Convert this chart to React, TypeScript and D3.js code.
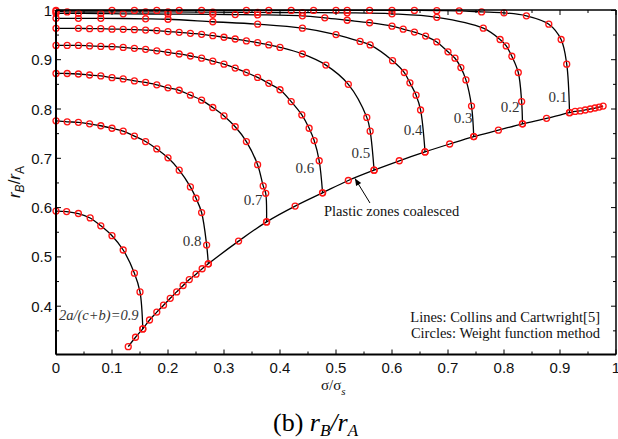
import React from "react";
import * as d3 from "d3";

const W = 618;
const H = 439;

// curve labels 2a/(c+b)
const LAMBDA_LABELS = ["0.1", "0.2", "0.3", "0.4", "0.5", "0.6", "0.7", "0.8"];

// sigma / sigma_s and r_B / r_A for each 2a/(c+b)
const S1 = [0, 0.1, 0.14, 0.18, 0.22, 0.26, 0.34, 0.38, 0.42, 0.46, 0.5, 0.52, 0.56, 0.6, 0.64, 0.68, 0.72, 0.76, 0.8, 0.84, 0.88, 0.902, 0.912, 0.917];
const R1 = [1, 1, 1, 1, 1, 1, 1, 1, 1, 1, 1, 1, 1, 1, 1, 0.9995, 0.999, 0.997, 0.995, 0.989, 0.972, 0.941, 0.891, 0.7925];

const S2 = [0, 0.02, 0.16, 0.2, 0.28, 0.36, 0.44, 0.52, 0.6, 0.68, 0.763, 0.793, 0.804, 0.814, 0.8255, 0.8315, 0.833];
const R2 = [0.998, 0.997, 0.997, 0.997, 0.9965, 0.996, 0.9955, 0.995, 0.993, 0.986, 0.964, 0.941, 0.928, 0.907, 0.874, 0.815, 0.77];

const S3 = [0, 0.04, 0.08, 0.12, 0.2, 0.28, 0.32, 0.36, 0.44, 0.48, 0.52, 0.56, 0.6, 0.62, 0.64, 0.66, 0.68, 0.7, 0.7125, 0.723, 0.732, 0.742, 0.746];
const R3 = [0.994, 0.994, 0.9935, 0.993, 0.9925, 0.992, 0.9915, 0.991, 0.989, 0.985, 0.98, 0.975, 0.968, 0.962, 0.956, 0.948, 0.936, 0.916, 0.903, 0.884, 0.859, 0.806, 0.744];

const S4 = [0, 0.04, 0.08, 0.16, 0.2, 0.28, 0.36, 0.44, 0.5, 0.543, 0.561, 0.601, 0.622, 0.632, 0.643, 0.651, 0.659];
const R4 = [0.984, 0.984, 0.984, 0.983, 0.982, 0.977, 0.972, 0.964, 0.951, 0.937, 0.93, 0.898, 0.874, 0.853, 0.828, 0.798, 0.713];

const S5 = [0, 0.04, 0.06, 0.08, 0.1, 0.12, 0.14, 0.16, 0.18, 0.2, 0.22, 0.24, 0.26, 0.28, 0.3, 0.32, 0.34, 0.36, 0.38, 0.4, 0.44, 0.482, 0.522, 0.555, 0.561, 0.568];
const R5 = [0.9636, 0.9636, 0.963, 0.963, 0.962, 0.9617, 0.961, 0.96, 0.959, 0.957, 0.9556, 0.9535, 0.9515, 0.9487, 0.9455, 0.942, 0.938, 0.9345, 0.93, 0.925, 0.9116, 0.889, 0.85, 0.783, 0.755, 0.676];

const S6 = [0, 0.02, 0.04, 0.06, 0.08, 0.1, 0.12, 0.14, 0.16, 0.18, 0.2, 0.22, 0.24, 0.26, 0.28, 0.3, 0.32, 0.34, 0.36, 0.38, 0.4, 0.42, 0.439, 0.452, 0.461, 0.47, 0.476];
const R6 = [0.929, 0.929, 0.929, 0.928, 0.927, 0.9264, 0.925, 0.923, 0.921, 0.918, 0.915, 0.9116, 0.9075, 0.903, 0.897, 0.891, 0.883, 0.874, 0.864, 0.852, 0.839, 0.815, 0.788, 0.761, 0.736, 0.695, 0.63];

const S7 = [0, 0.02, 0.04, 0.06, 0.08, 0.1, 0.12, 0.14, 0.16, 0.18, 0.2, 0.22, 0.24, 0.26, 0.28, 0.3, 0.32, 0.34, 0.36, 0.37, 0.3745, 0.376];
const R7 = [0.872, 0.872, 0.871, 0.869, 0.867, 0.8635, 0.861, 0.857, 0.854, 0.849, 0.843, 0.838, 0.828, 0.818, 0.803, 0.786, 0.764, 0.734, 0.687, 0.644, 0.629, 0.571];

const S8 = [0, 0.02, 0.04, 0.06, 0.08, 0.1, 0.12, 0.14, 0.16, 0.18, 0.2, 0.22, 0.24, 0.25, 0.26, 0.269, 0.272];
const R8 = [0.776, 0.774, 0.773, 0.77, 0.766, 0.761, 0.755, 0.745, 0.734, 0.719, 0.701, 0.676, 0.642, 0.619, 0.59, 0.524, 0.486];

const S9 = [0, 0.019, 0.04, 0.061, 0.08, 0.1, 0.12, 0.14, 0.15, 0.155];
const R9 = [0.593, 0.592, 0.588, 0.579, 0.563, 0.543, 0.514, 0.467, 0.429, 0.354];

// plastic zones coalesced
const SC = [0.129, 0.142, 0.155, 0.167, 0.18, 0.192, 0.204, 0.2155, 0.227, 0.238, 0.25, 0.261, 0.272, 0.326, 0.376, 0.427, 0.476, 0.522, 0.568, 0.613, 0.659, 0.703, 0.746, 0.79, 0.833, 0.876, 0.917, 0.927, 0.936, 0.945, 0.954, 0.9625, 0.97, 0.977];
const RC = [0.318, 0.337, 0.354, 0.372, 0.388, 0.402, 0.416, 0.429, 0.442, 0.454, 0.465, 0.476, 0.486, 0.532, 0.571, 0.603, 0.63, 0.655, 0.676, 0.695, 0.713, 0.729, 0.744, 0.757, 0.77, 0.781, 0.7925, 0.795, 0.796, 0.798, 0.8, 0.802, 0.804, 0.806];

const X_TICK_LABELS = ["0", "0.1", "0.2", "0.3", "0.4", "0.5", "0.6", "0.7", "0.8", "0.9", "1"];
const Y_TICK_LABELS = ["0.4", "0.5", "0.6", "0.7", "0.8", "0.9", "1"];

const SERIES = [
  { s: S1, r: R1 }, { s: S2, r: R2 }, { s: S3, r: R3 }, { s: S4, r: R4 }, { s: S5, r: R5 },
  { s: S6, r: R6 }, { s: S7, r: R7 }, { s: S8, r: R8 }, { s: S9, r: R9 },
];

const SERIF = "'Liberation Serif', 'Times New Roman', serif";
const SANS = "'Liberation Sans', Arial, sans-serif";

export default function App() {
  const left = 56, right = 616, top = 10, bottom = 354.5;
  const x = d3.scaleLinear().domain([0, 1]).range([left, right]);
  const y = d3.scaleLinear().domain([0.3, 1]).range([355.5, 10.4]);

  const toPts = (s: number[], r: number[]) => s.map((v, i) => [v, r[i]] as [number, number]);
  const line = d3
    .line<[number, number]>()
    .x((d) => x(d[0]))
    .y((d) => y(d[1]))
    .curve(d3.curveCatmullRom.alpha(0.5));

  const xTicks = d3.range(0, 21).map((i) => i * 0.05);
  const yTicks = d3.range(1, 15).map((i) => 0.3 + i * 0.05);

  const curveLabelPos: [number, number][] = [
    [0.896, 0.8142], [0.811, 0.7939], [0.727, 0.7726], [0.6375, 0.7473],
    [0.5446, 0.7006], [0.4446, 0.6692], [0.3518, 0.6053], [0.2429, 0.5221],
  ];

  const coal = toPts(SC, RC);
  const circleR = 3;
  const red = "#ff1414";

  const ax0 = x(0.5607), ay0 = y(0.6093), ax1 = x(0.5339), ay1 = y(0.659);
  const ang = Math.atan2(ay1 - ay0, ax1 - ax0);
  const ah = 7, aw = 3;
  const arrowHead = [
    [ax1, ay1],
    [ax1 - ah * Math.cos(ang) + aw * Math.sin(ang), ay1 - ah * Math.sin(ang) - aw * Math.cos(ang)],
    [ax1 - ah * Math.cos(ang) - aw * Math.sin(ang), ay1 - ah * Math.sin(ang) + aw * Math.cos(ang)],
  ]
    .map((p) => p.join(","))
    .join(" ");

  return (
    <svg
      width={W}
      height={H}
      style={{ position: "absolute", left: 0, top: 0, background: "#fff" }}
    >
      <rect x={0} y={0} width={W} height={H} fill="#fff" />

      {/* curves */}
      {SERIES.map((c, i) => (
        <path key={"l" + i} d={line(toPts(c.s, c.r)) || ""} fill="none" stroke="#000" strokeWidth={1.3} />
      ))}
      <path d={line(coal) || ""} fill="none" stroke="#000" strokeWidth={1.3} />

      {/* circles */}
      {SERIES.map((c, i) =>
        toPts(c.s, c.r).map((p, j) => (
          <circle key={"c" + i + "-" + j} cx={x(p[0])} cy={y(p[1])} r={circleR} fill="none" stroke={red} strokeWidth={1.3} />
        ))
      )}
      {coal.map((p, j) => (
        <circle key={"cc" + j} cx={x(p[0])} cy={y(p[1])} r={circleR} fill="none" stroke={red} strokeWidth={1.3} />
      ))}

      {/* frame */}
      <line x1={left} x2={right} y1={top} y2={top} stroke="#000" strokeWidth={1.5} />
      <line x1={right} x2={right} y1={top} y2={bottom} stroke="#000" strokeWidth={1.5} />
      <line x1={left} x2={left} y1={top} y2={bottom} stroke="#000" strokeWidth={2} />
      <line x1={left} x2={right} y1={bottom} y2={bottom} stroke="#000" strokeWidth={2} />

      {/* x ticks */}
      {xTicks.map((t, i) => {
        const len = i % 2 === 0 ? 5 : 3;
        return (
          <g key={"xt" + i}>
            <line x1={x(t)} x2={x(t)} y1={bottom} y2={bottom - len} stroke="#000" strokeWidth={1} />
            <line x1={x(t)} x2={x(t)} y1={top} y2={top + len} stroke="#000" strokeWidth={1} />
          </g>
        );
      })}
      {X_TICK_LABELS.map((lab, i) => (
        <text key={"xl" + i} x={x(i / 10)} y={372.5} textAnchor="middle" fontFamily={SANS} fontSize={15} fill="#111">
          {lab}
        </text>
      ))}

      {/* y ticks */}
      {yTicks.map((t, i) => {
        const len = i % 2 === 1 ? 5 : 3;
        return (
          <g key={"yt" + i}>
            <line x1={left} x2={left + len} y1={y(t)} y2={y(t)} stroke="#000" strokeWidth={1} />
            <line x1={right} x2={right - len} y1={y(t)} y2={y(t)} stroke="#000" strokeWidth={1} />
          </g>
        );
      })}
      {Y_TICK_LABELS.map((lab, i) => (
        <text key={"yl" + i} x={52} y={y(0.4 + i * 0.1) + 5.5} textAnchor="end" fontFamily={SANS} fontSize={15} fill="#111">
          {lab}
        </text>
      ))}

      {/* axis titles */}
      <text x={321} y={390} fontFamily={SERIF} fontSize={15} fill="#111">
        σ/σ<tspan fontStyle="italic" fontSize={11} dy={5}>s</tspan>
      </text>
      <text transform="translate(20,182) rotate(-90)" textAnchor="middle" fontFamily={SANS} fontSize={17} fill="#111">
        <tspan fontStyle="italic">r</tspan>
        <tspan fontStyle="italic" fontSize={12} dy={4}>B</tspan>
        <tspan dy={-4}>/</tspan>
        <tspan fontStyle="italic">r</tspan>
        <tspan fontSize={12} dy={4}>A</tspan>
      </text>

      {/* curve labels */}
      {LAMBDA_LABELS.map((lab, i) => (
        <text key={"cl" + i} x={x(curveLabelPos[i][0])} y={y(curveLabelPos[i][1])} textAnchor="middle" fontFamily={SERIF} fontSize={15} fill="#333">
          {lab}
        </text>
      ))}
      <text x={x(0.0054)} y={y(0.372)} fontFamily={SERIF} fontStyle="italic" fontSize={14.5} fill="#333">
        2a/(c+b)=0.9
      </text>

      {/* annotation */}
      <text x={x(0.4786)} y={y(0.582)} fontFamily={SERIF} fontSize={14.5} fill="#111">
        Plastic zones coalesced
      </text>
      <line x1={ax0} y1={ay0} x2={ax1} y2={ay1} stroke="#000" strokeWidth={1} />
      <polygon points={arrowHead} fill="#000" />

      {/* legend */}
      <text x={x(0.9714)} y={y(0.368)} textAnchor="end" fontFamily={SERIF} fontSize={14.5} fill="#111">
        Lines: Collins and Cartwright[5]
      </text>
      <text x={x(0.9714)} y={y(0.3355)} textAnchor="end" fontFamily={SERIF} fontSize={14.5} fill="#111">
        Circles: Weight function method
      </text>

      {/* caption */}
      <text x={273} y={431} fontFamily={SERIF} fontSize={26} fill="#000">
        (b){" "}
        <tspan fontStyle="italic">r</tspan>
        <tspan fontStyle="italic" fontSize={17} dy={5}>B</tspan>
        <tspan fontStyle="italic" dy={-5}>/r</tspan>
        <tspan fontStyle="italic" fontSize={17} dy={5}>A</tspan>
      </text>
    </svg>
  );
}
